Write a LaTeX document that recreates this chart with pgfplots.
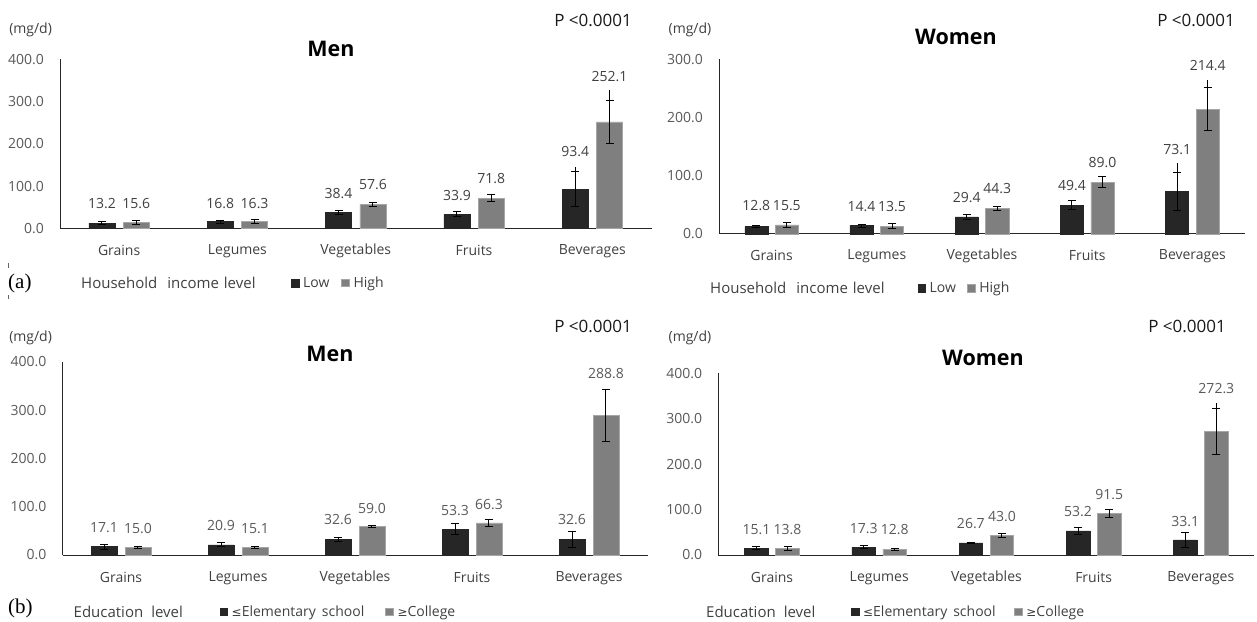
\documentclass[border=0pt]{standalone}
\usepackage{fontspec}
\setmainfont{Open Sans}
\newfontfamily\seriffont{Liberation Serif}
\newfontfamily\symfont{DejaVu Sans}
\usepackage{pgfplots}
\pgfplotsset{compat=1.18}
\definecolor{darkbar}{HTML}{262626}
\definecolor{graybar}{HTML}{7F7F7F}
\definecolor{grayedge}{HTML}{A6A6A6}
\definecolor{txtgray}{HTML}{404040}
\definecolor{ticklab}{HTML}{595959}
\newcommand{\fs}[1]{\fontsize{#1pt}{#1pt}\selectfont}
\pgfplotsset{
  panel/.style={
    scale only axis, clip=false,
    xmin=-0.5, xmax=4.5, ymin=0,
    axis x line*=bottom, axis y line*=left,
    axis line style={draw=black!85, line width=1pt},
    major tick length=0pt,
    xtick={0,1,2,3,4},
    xticklabels={Grains,Legumes,Vegetables,Fruits,Beverages},
    xticklabel style={font=\fs{14}, text=txtgray, anchor=center, inner sep=0pt},
    yticklabel style={font=\fs{14}, text=ticklab, anchor=east, inner sep=0pt, xshift=-16pt,
      /pgf/number format/fixed, /pgf/number format/fixed zerofill,
      /pgf/number format/precision=1, /pgf/number format/assume math mode=true},
    legend image code/.code={\fill[#1] (0pt,-3.8pt) rectangle (7.6pt,3.8pt);},
    legend columns=-1,
    legend style={anchor=west, draw=none, fill=none, inner sep=0pt, outer sep=0pt,
      font=\fs{14}, text=txtgray, nodes={inner sep=0pt, text=txtgray},
      /tikz/every odd column/.append style={column sep=4pt}},
  },
  errs/.style={error bars/.cd, y dir=both, y explicit, error mark=-,
    error bar style={black, line width=1pt},
    error mark options={rotate=90, black, line width=1pt, mark size=4pt}},
  ext/.style={ybar, bar width=0.22, bar shift=0, draw=none, fill=none, forget plot,
    error bars/.cd, y dir=plus, y explicit, error mark=none,
    error bar style={black, line width=1pt}},
  lowbar/.style={ybar, bar width=0.22, bar shift=0, fill=darkbar, draw=darkbar, line width=0.5pt, errs},
  highbar/.style={ybar, bar width=0.22, bar shift=0, fill=graybar, draw=grayedge, line width=0.6pt, errs},
  vlab/.style={draw=none, mark=none, forget plot, nodes near coords, point meta=explicit symbolic,
    every node near coord/.append style={anchor=center, inner sep=0pt, font=\fs{14}, text=#1}},
}
\begin{document}
\begin{tikzpicture}
\useasboundingbox (0pt,0pt) rectangle (1257pt,621pt);

% ---------------- (a) Men ----------------
\begin{axis}[panel, at={(60pt,392.3pt)}, anchor=south west,
  width=591.5pt, height=169.4pt, ymax=400, ytick={0,100,200,300,400},
  xticklabel style={yshift=-22pt},
  legend style={at={(0.3905,-0.3205)}, /tikz/every even column/.append style={column sep=12pt}}]
\addplot[lowbar] coordinates {(-0.145,13.2)+-(0,4) (0.855,16.8)+-(0,3.5) (1.855,38.4)+-(0,5) (2.855,33.9)+-(0,6) (3.855,93.4)+-(0,41.3)};
\addplot[highbar] coordinates {(0.145,15.6)+-(0,4.7) (1.145,16.3)+-(0,4.5) (2.145,57.6)+-(0,5) (3.145,71.8)+-(0,8) (4.145,252.1)+-(0,50)};
\addplot[ext] coordinates {(3.855,93.4)+-(0,51.4)};
\addplot[ext] coordinates {(4.145,252.1)+-(0,75.3)};
\addplot[vlab=txtgray] table[meta=l] {
x y l
-0.145 60 13.2
0.855 60 16.8
1.855 83.6 38.4
2.855 77.2 33.9
3.855 181.8 93.4
};
\addplot[vlab=txtgray] table[meta=l] {
x y l
0.145 60 15.6
1.145 60 16.3
2.145 104.8 57.6
3.145 117.4 71.8
4.145 359 252.1
};
\legend{Low,High}
\end{axis}

% ---------------- (a) Women ----------------
\begin{axis}[panel, at={(719pt,387pt)}, anchor=south west,
  width=526pt, height=174.7pt, ymax=300, ytick={0,100,200,300},
  xticklabel style={yshift=-21.7pt},
  legend style={at={(0.3776,-0.3108)}, /tikz/every even column/.append style={column sep=11pt}}]
\addplot[lowbar] coordinates {(-0.145,12.8)+-(0,2) (0.855,14.4)+-(0,2.6) (1.855,29.4)+-(0,4) (2.855,49.4)+-(0,7.7) (3.855,73.1)+-(0,32)};
\addplot[highbar] coordinates {(0.145,15.5)+-(0,4) (1.145,13.5)+-(0,3.7) (2.145,44.3)+-(0,3.4) (3.145,89.0)+-(0,9) (4.145,214.4)+-(0,37)};
\addplot[ext] coordinates {(3.855,73.1)+-(0,48.3)};
\addplot[ext] coordinates {(4.145,214.4)+-(0,50.1)};
\addplot[vlab=txtgray] table[meta=l] {
x y l
-0.145 48.1 12.8
0.855 46.9 14.4
1.855 63 29.4
2.855 82.4 49.4
3.855 145.5 73.1
};
\addplot[vlab=txtgray] table[meta=l] {
x y l
0.145 48.1 15.5
1.145 46.9 13.5
2.145 78.5 44.3
3.145 122.4 89.0
4.145 290 214.4
};
\legend{Low,High}
\end{axis}

% ---------------- (b) Men ----------------
\begin{axis}[panel, at={(62.5pt,66pt)}, anchor=south west,
  width=585pt, height=193.3pt, ymax=400, ytick={0,100,200,300,400},
  xticklabel style={yshift=-22.7pt},
  legend style={at={(0.2686,-0.2933)}, /tikz/every even column/.append style={column sep=21pt}}]
\addplot[lowbar] coordinates {(-0.145,17.1)+-(0,5) (0.855,20.9)+-(0,4) (1.855,32.6)+-(0,4.5) (2.855,53.3)+-(0,11.7) (3.855,32.6)+-(0,17)};
\addplot[highbar] coordinates {(0.145,15.0)+-(0,2) (1.145,15.1)+-(0,2) (2.145,59.0)+-(0,2.5) (3.145,66.3)+-(0,8) (4.145,288.8)+-(0,53.5)};
\addplot[ext] coordinates {(4.145,288.8)+-(0,55.5)};
\addplot[vlab=ticklab] table[meta=l] {
x y l
-0.145 57.3 17.1
0.855 60 20.9
1.855 72.4 32.6
2.855 93 53.3
3.855 72.4 32.6
};
\addplot[vlab=ticklab] table[meta=l] {
x y l
0.145 53.8 15.0
1.145 54.5 15.1
2.145 96.6 59.0
3.145 104.8 66.3
4.145 374.5 288.8
};
\legend{{{\symfont\fs{12}≤}Elementary\hspace{6pt}school},{{\symfont\fs{12}≥}College}}
\end{axis}

% ---------------- (b) Women ----------------
\begin{axis}[panel, at={(718.4pt,66pt)}, anchor=south west,
  width=536pt, height=181.7pt, ymax=400, ytick={0,100,200,300,400},
  xticklabel style={yshift=-22.7pt},
  legend style={at={(0.2474,-0.312)}, /tikz/every even column/.append style={column sep=18.5pt}}]
\addplot[lowbar] coordinates {(-0.145,15.1)+-(0,2.6) (0.855,17.3)+-(0,4) (1.855,26.7)+-(0,1.8) (2.855,53.2)+-(0,7.3) (3.855,33.1)+-(0,16)};
\addplot[highbar] coordinates {(0.145,13.8)+-(0,4) (1.145,12.8)+-(0,1.8) (2.145,43.0)+-(0,4) (3.145,91.5)+-(0,9.5) (4.145,272.3)+-(0,50)};
\addplot[ext] coordinates {(4.145,272.3)+-(0,63.1)};
\addplot[vlab=ticklab] table[meta=l] {
x y l
-0.145 55 15.1
0.855 58.7 17.3
1.855 69.7 26.7
2.855 95.4 53.2
3.855 73.4 33.1
};
\addplot[vlab=ticklab] table[meta=l] {
x y l
0.145 55 13.8
1.145 55 12.8
2.145 84.4 43.0
3.145 133.6 91.5
4.145 365.5 272.3
};
\legend{{{\symfont\fs{12}≤}Elementary\hspace{6pt}school},{{\symfont\fs{12}≥}College}}
\end{axis}

% ---------------- texts ----------------
\begin{scope}[every node/.style={inner sep=0pt}]
\node[font=\fs{14}, text=txtgray] at (30.6pt,591pt) {(mg/d)};
\node[font=\bfseries\fs{21.5}] at (331pt,572pt) {Men};
\node[font=\fs{17}, text=black!90] at (593pt,601pt) {P <0.0001};
\node[font=\fs{14}, text=txtgray] at (690pt,591pt) {(mg/d)};
\node[font=\bfseries\fs{21.5}] at (956pt,584.3pt) {Women};
\node[font=\fs{17}, text=black!90] at (1196pt,601pt) {P <0.0001};
\node[font=\fs{14}, text=txtgray] at (30.6pt,283pt) {(mg/d)};
\node[font=\bfseries\fs{21.5}] at (330pt,267pt) {Men};
\node[font=\fs{17}, text=black!90] at (593pt,294.3pt) {P <0.0001};
\node[font=\fs{14}, text=txtgray] at (690pt,283pt) {(mg/d)};
\node[font=\bfseries\fs{21.5}] at (983pt,263.3pt) {Women};
\node[font=\fs{17}, text=black!90] at (1187pt,294.3pt) {P <0.0001};
\node[font=\seriffont\fs{21}, anchor=west] at (8pt,338pt) {(a)};
\node[font=\seriffont\fs{21}, anchor=west] at (8pt,12.3pt) {(b)};
\node[font=\fs{15}, text=txtgray, anchor=west] at (81pt,338pt) {Household\hspace{10pt}income\hspace{5pt}level};
\node[font=\fs{15}, text=txtgray, anchor=west] at (710pt,332.7pt) {Household\hspace{10pt}income\hspace{5pt}level};
\node[font=\fs{15}, text=txtgray, anchor=west] at (73.5pt,9.3pt) {Education\hspace{8pt}level};
\node[font=\fs{15}, text=txtgray, anchor=west] at (706pt,9.3pt) {Education\hspace{8pt}level};
\end{scope}
\draw[black!60, line width=0.8pt] (8pt,358pt) -- (8pt,353pt);
\draw[black!60, line width=0.8pt] (8pt,326pt) -- (8pt,322pt);
\end{tikzpicture}
\end{document}
